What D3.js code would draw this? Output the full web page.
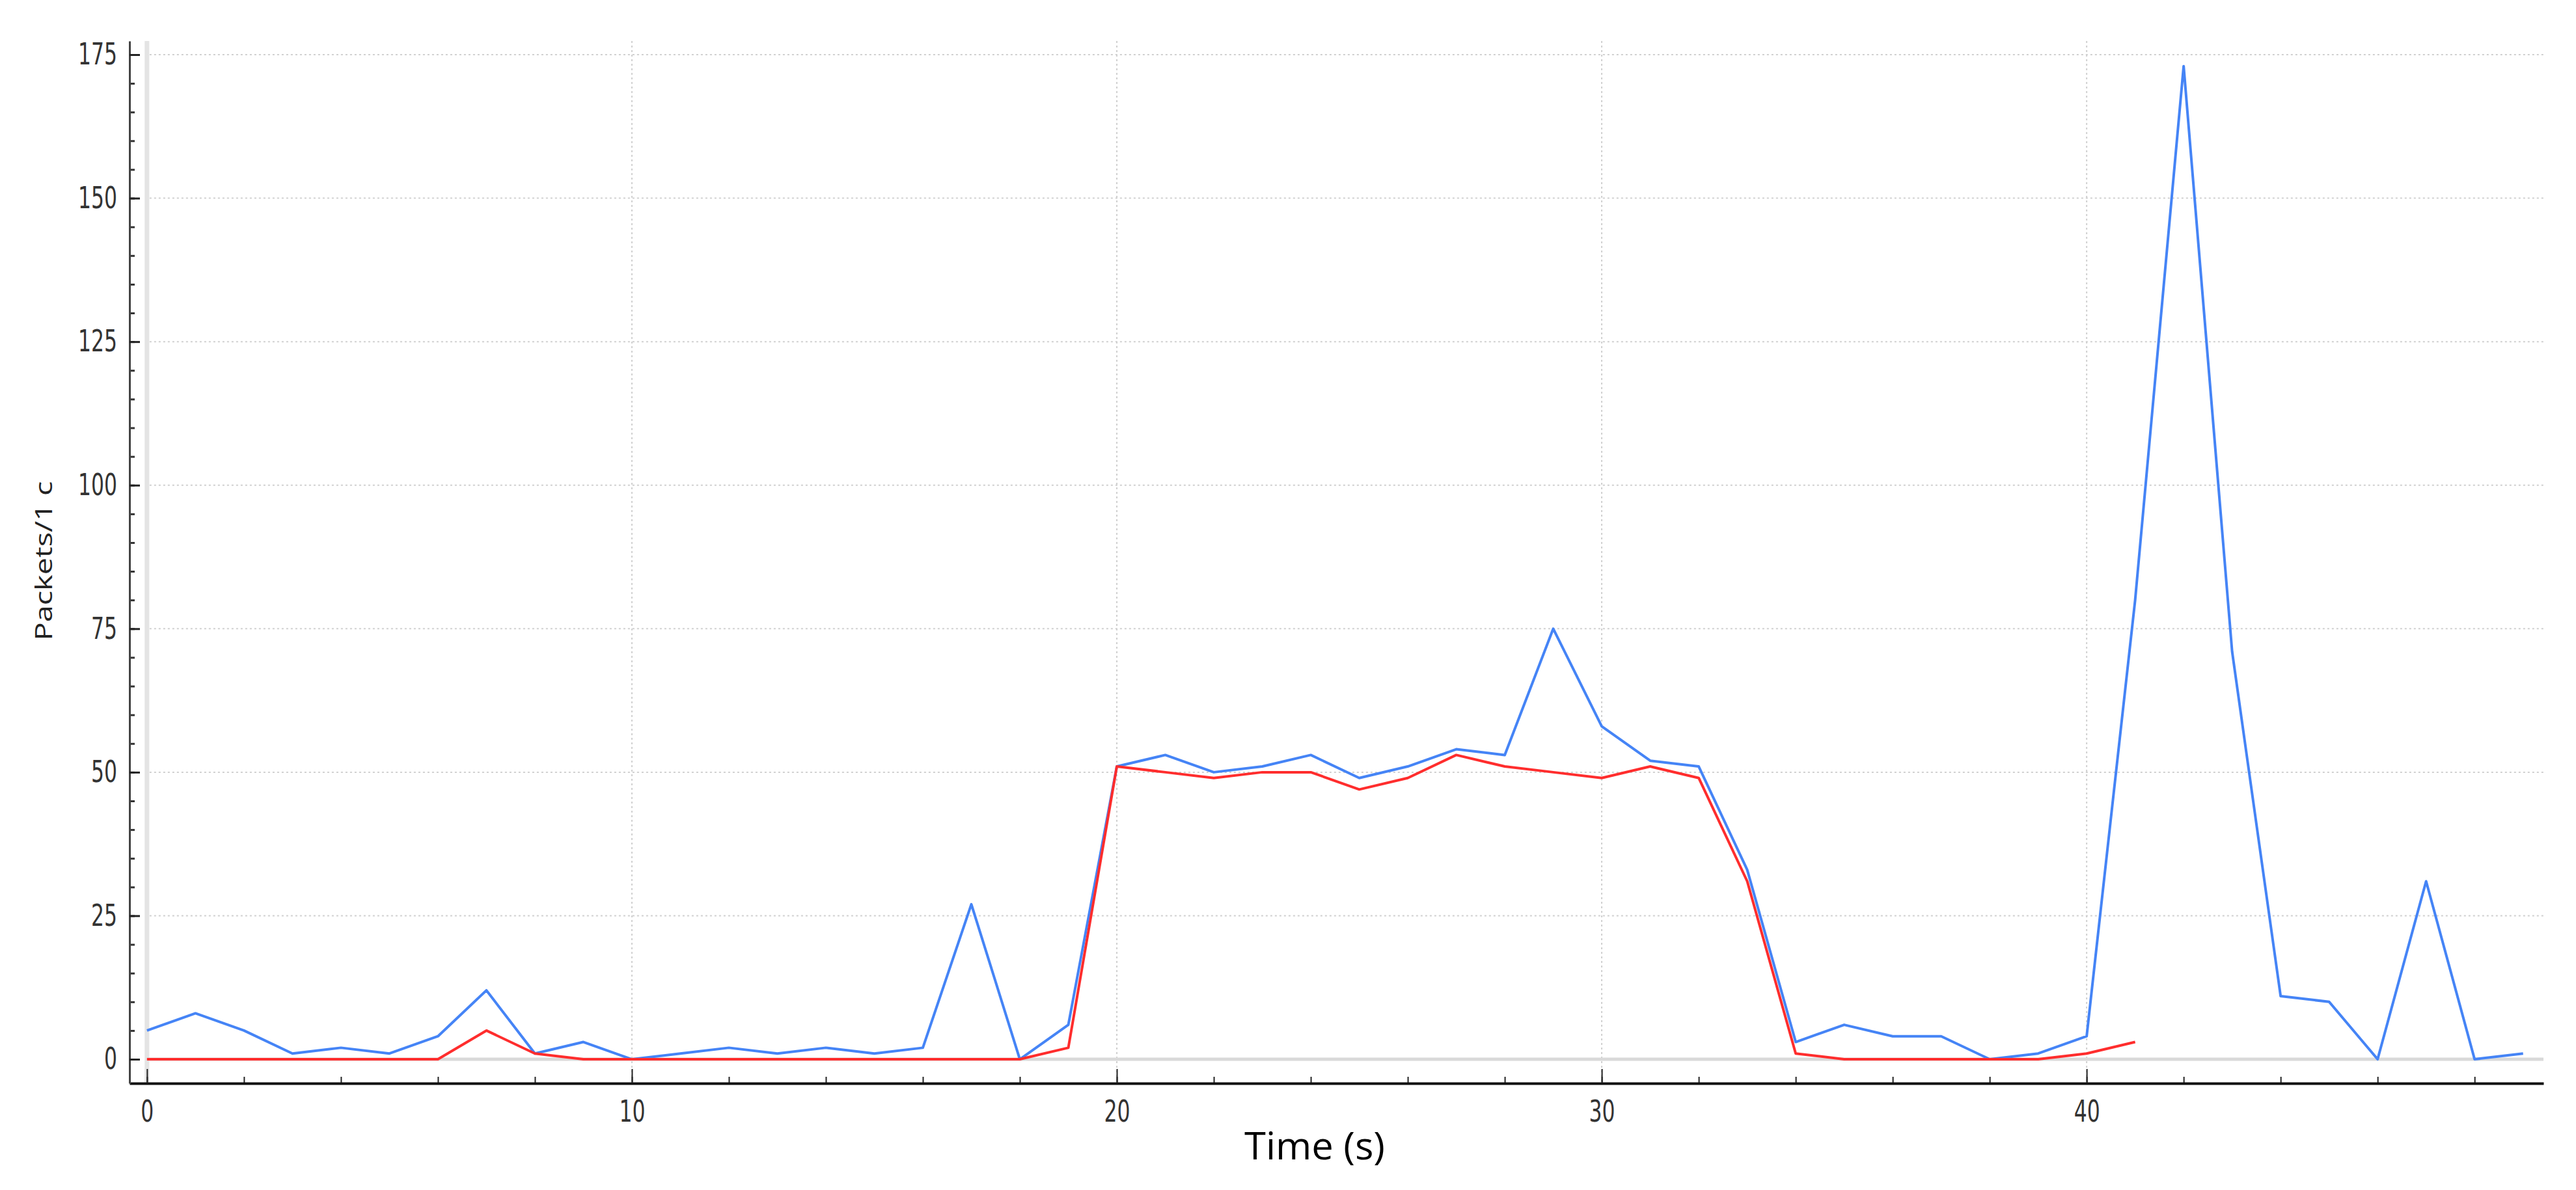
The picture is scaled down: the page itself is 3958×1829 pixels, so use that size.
<!DOCTYPE html>
<html>
    <head>
        <title>Packets per second</title>
        <style>
            body { margin: 0; background: #ffffff; }
            .tick text { font-family: "DejaVu Sans Condensed", "DejaVu Sans", sans-serif; fill: #333333; }
        </style>
        <script src="https://cdnjs.cloudflare.com/ajax/libs/d3/7.0.4/d3.min.js" charset="utf-8"></script>
    </head>
    <body>
        <div id="chart"></div>
        <script>
            // values, one per second
            const seconds = [0,1,2,3,4,5,6,7,8,9,10,11,12,13,14,15,16,17,18,19,20,21,22,23,24,25,26,27,28,29,30,31,32,33,34,35,36,37,38,39,40,41,42,43,44,45,46,47,48,49];
            const bluePackets = [5,8,5,1,2,1,4,12,1,3,0,1,2,1,2,1,2,27,0,6,51,53,50,51,53,49,51,54,53,75,58,52,51,33,3,6,4,4,0,1,4,80,173,71,11,10,0,31,0,1];
            const redPackets = [0,0,0,0,0,0,0,5,1,0,0,0,0,0,0,0,0,0,0,2,51,50,49,50,50,47,49,53,51,50,49,51,49,31,1,0,0,0,0,0,1,3];
            const xTickValues = [0,10,20,30,40];
            const yTickValues = [0,25,50,75,100,125,150,175];
            const xLabel = "Time (s)";
            const yLabel = "Packets/1 c";

            const w = 3958;
            const h = 1829;

            const svg = d3.select("#chart")
                .append("svg")
                .attr("width", w)
                .attr("height", h);

            const xScale = d3.scaleLinear()
                .domain([-0.36, 49.42])
                .range([199, 3908]);

            const yScale = d3.scaleLinear()
                .domain([-4.19, 177.38])
                .range([1665, 63]);

            //grid
            svg.append("g").selectAll("line")
                .data(yTickValues.filter(d => d != 0))
                .enter()
                .append("line")
                .attr("x1", xScale(0) + 4)
                .attr("x2", xScale.range()[1])
                .attr("y1", d => yScale(d))
                .attr("y2", d => yScale(d))
                .attr("stroke", "#d0d0d0")
                .attr("stroke-width", 2)
                .attr("stroke-dasharray", "3,4");

            svg.append("g").selectAll("line")
                .data(xTickValues.filter(d => d != 0))
                .enter()
                .append("line")
                .attr("x1", d => xScale(d))
                .attr("x2", d => xScale(d))
                .attr("y1", yScale.range()[1])
                .attr("y2", yScale.range()[0])
                .attr("stroke", "#d0d0d0")
                .attr("stroke-width", 2)
                .attr("stroke-dasharray", "3,4");

            // zero lines
            svg.append("line")
                .attr("x1", xScale(0))
                .attr("x2", xScale(0))
                .attr("y1", yScale.range()[1])
                .attr("y2", yScale.range()[0])
                .attr("stroke", "#e4e4e4")
                .attr("stroke-width", 7);

            svg.append("line")
                .attr("x1", xScale(0))
                .attr("x2", xScale.range()[1])
                .attr("y1", yScale(0))
                .attr("y2", yScale(0))
                .attr("stroke", "#d9d9d9")
                .attr("stroke-width", 5);

            // lines
            const line = d3.line()
                .x((d, i) => xScale(seconds[i]))
                .y(d => yScale(d));

            svg.append("path")
                .datum(bluePackets)
                .attr("d", line)
                .attr("fill", "none")
                .attr("stroke", "#4584f6")
                .attr("stroke-width", 4)
                .attr("stroke-linejoin", "round");

            svg.append("path")
                .datum(redPackets)
                .attr("d", line)
                .attr("fill", "none")
                .attr("stroke", "#ff2d2d")
                .attr("stroke-width", 4)
                .attr("stroke-linejoin", "round");

            // x axis
            svg.append("g")
                .attr("transform", "translate(0,1665)")
                .call(d3.axisBottom(xScale).tickValues(d3.range(0, 50, 2)).tickSizeInner(-10).tickSizeOuter(0).tickFormat(""))
                .call(g => g.select(".domain").remove())
                .selectAll("line").attr("stroke", "#222").attr("stroke-width", 2);

            const xAxis = svg.append("g")
                .attr("transform", "translate(0,1665)")
                .call(d3.axisBottom(xScale).tickValues(xTickValues).tickSizeInner(-22).tickSizeOuter(0).tickPadding(26));
            xAxis.select(".domain").attr("stroke", "#111").attr("stroke-width", 4);
            xAxis.selectAll(".tick line").attr("stroke", "#222").attr("stroke-width", 2);
            xAxis.selectAll(".tick text")
                .attr("font-size", 46)
                .attr("textLength", d => String(d).length * 20)
                .attr("lengthAdjust", "spacingAndGlyphs");

            // y axis
            svg.append("g")
                .attr("transform", "translate(199,0)")
                .call(d3.axisLeft(yScale).tickValues(d3.range(0, 176, 5)).tickSizeInner(-8).tickSizeOuter(0).tickFormat(""))
                .call(g => g.select(".domain").remove())
                .selectAll("line").attr("stroke", "#333").attr("stroke-width", 3);

            const yAxis = svg.append("g")
                .attr("transform", "translate(199,0)")
                .call(d3.axisLeft(yScale).tickValues(yTickValues).tickSizeInner(-16).tickSizeOuter(0).tickPadding(19));
            yAxis.select(".domain").attr("stroke", "#444").attr("stroke-width", 3);
            yAxis.selectAll(".tick line").attr("stroke", "#222").attr("stroke-width", 3);
            yAxis.selectAll(".tick text")
                .attr("font-size", 46)
                .attr("textLength", d => String(d).length * 20)
                .attr("lengthAdjust", "spacingAndGlyphs");

            // axis titles
            svg.append("text")
                .attr("x", 2020)
                .attr("y", 1782)
                .attr("text-anchor", "middle")
                .attr("font-family", "'Open Sans', 'Noto Sans', sans-serif")
                .attr("font-size", 58)
                .attr("textLength", 216)
                .attr("lengthAdjust", "spacingAndGlyphs")
                .attr("fill", "#000")
                .text(xLabel);

            svg.append("text")
                .attr("transform", "translate(80,862) rotate(-90)")
                .attr("text-anchor", "middle")
                .attr("font-family", "'Open Sans', 'Noto Sans', sans-serif")
                .attr("font-size", 36)
                .attr("textLength", 245)
                .attr("lengthAdjust", "spacingAndGlyphs")
                .attr("fill", "#222")
                .text(yLabel);
        </script>
    </body>
</html>
